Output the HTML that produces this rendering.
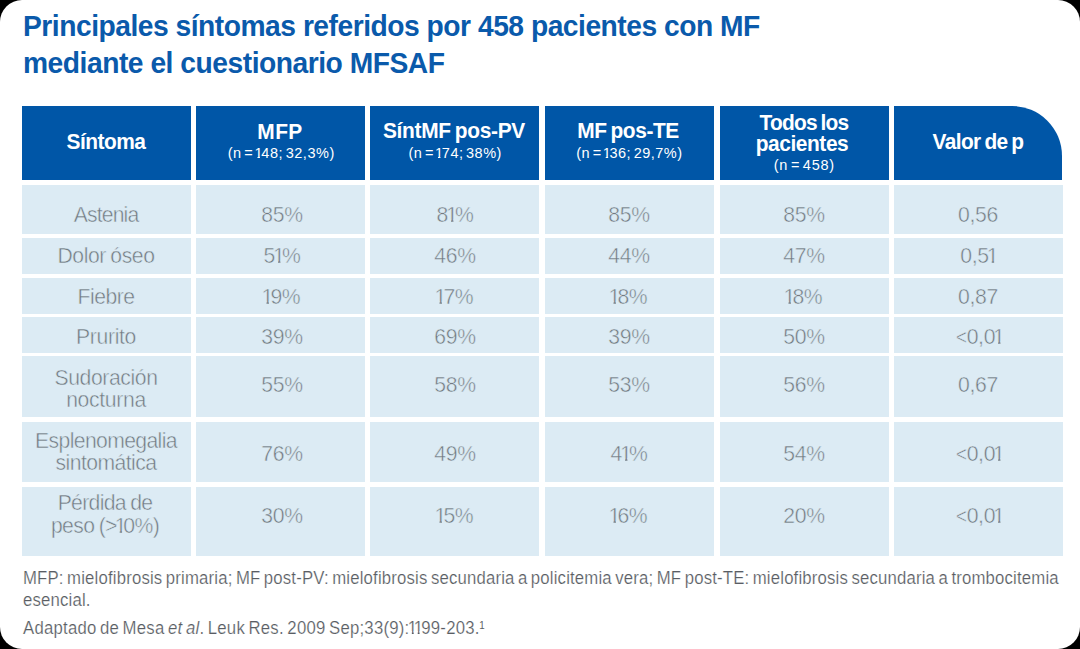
<!DOCTYPE html>
<html><head><meta charset="utf-8"><title>MFSAF</title><style>
html,body{margin:0;padding:0;background:#000;width:1080px;height:649px;overflow:hidden}
#pg{position:absolute;left:0;top:0;width:1080px;height:649px;background:#fff;border-radius:22px;overflow:hidden;font-family:"Liberation Sans", sans-serif}
#pg div{position:absolute;white-space:nowrap}
.hc{background:#0056a7}
.bc{background:#dcebf4}
.hb{font-weight:bold;font-size:22px;line-height:22px;color:#fff;word-spacing:-1.5px}
.hs{font-size:14.5px;line-height:14.5px;color:#fff;word-spacing:-2px}
.bt{font-size:22.5px;line-height:22.5px;color:#737980;word-spacing:-1px;-webkit-text-stroke:0.5px #dcebf4}
.ti{font-weight:bold;font-size:30px;line-height:30px;color:#0a5aab}
.fn{font-size:18px;line-height:18px;color:#595d63;word-spacing:-1.5px;-webkit-text-stroke:0.2px #fff}
.sup{position:relative;font-size:10.5px;top:-5px;margin-left:-0.5px;-webkit-text-stroke:0}
.o2{clip-path:polygon(0 0,100% 0,100% 0.72em,0.38em 0.72em,0.38em 120%,0.21em 120%,0.21em 0.72em,0 0.72em) !important}
.lt{font-size:0.88em}
.o{display:inline-block;line-height:1em;margin:0 -0.12em 0 -0.1em;clip-path:polygon(0 0,100% 0,100% 0.68em,0.35em 0.68em,0.35em 120%,0.24em 120%,0.24em 0.68em,0 0.68em)}
</style></head><body><div id="pg">
<div class="hc" style="left:22px;top:105.6px;width:168.5px;height:74.0px"></div>
<div class="hc" style="left:196px;top:105.6px;width:169px;height:74.0px"></div>
<div class="hc" style="left:370px;top:105.6px;width:169px;height:74.0px"></div>
<div class="hc" style="left:545px;top:105.6px;width:169px;height:74.0px"></div>
<div class="hc" style="left:720px;top:105.6px;width:169px;height:74.0px"></div>
<div class="hc" style="left:894px;top:105.6px;width:168px;height:74.0px;border-top-right-radius:50px"></div>
<div class="bc" style="left:22px;top:185px;width:168.5px;height:49px"></div>
<div class="bc" style="left:196px;top:185px;width:169px;height:49px"></div>
<div class="bc" style="left:370px;top:185px;width:169px;height:49px"></div>
<div class="bc" style="left:545px;top:185px;width:169px;height:49px"></div>
<div class="bc" style="left:720px;top:185px;width:169px;height:49px"></div>
<div class="bc" style="left:894px;top:185px;width:169px;height:49px"></div>
<div class="bc" style="left:22px;top:238px;width:168.5px;height:36px"></div>
<div class="bc" style="left:196px;top:238px;width:169px;height:36px"></div>
<div class="bc" style="left:370px;top:238px;width:169px;height:36px"></div>
<div class="bc" style="left:545px;top:238px;width:169px;height:36px"></div>
<div class="bc" style="left:720px;top:238px;width:169px;height:36px"></div>
<div class="bc" style="left:894px;top:238px;width:169px;height:36px"></div>
<div class="bc" style="left:22px;top:277.5px;width:168.5px;height:36.5px"></div>
<div class="bc" style="left:196px;top:277.5px;width:169px;height:36.5px"></div>
<div class="bc" style="left:370px;top:277.5px;width:169px;height:36.5px"></div>
<div class="bc" style="left:545px;top:277.5px;width:169px;height:36.5px"></div>
<div class="bc" style="left:720px;top:277.5px;width:169px;height:36.5px"></div>
<div class="bc" style="left:894px;top:277.5px;width:169px;height:36.5px"></div>
<div class="bc" style="left:22px;top:317px;width:168.5px;height:36px"></div>
<div class="bc" style="left:196px;top:317px;width:169px;height:36px"></div>
<div class="bc" style="left:370px;top:317px;width:169px;height:36px"></div>
<div class="bc" style="left:545px;top:317px;width:169px;height:36px"></div>
<div class="bc" style="left:720px;top:317px;width:169px;height:36px"></div>
<div class="bc" style="left:894px;top:317px;width:169px;height:36px"></div>
<div class="bc" style="left:22px;top:356px;width:168.5px;height:61px"></div>
<div class="bc" style="left:196px;top:356px;width:169px;height:61px"></div>
<div class="bc" style="left:370px;top:356px;width:169px;height:61px"></div>
<div class="bc" style="left:545px;top:356px;width:169px;height:61px"></div>
<div class="bc" style="left:720px;top:356px;width:169px;height:61px"></div>
<div class="bc" style="left:894px;top:356px;width:169px;height:61px"></div>
<div class="bc" style="left:22px;top:421.5px;width:168.5px;height:60.5px"></div>
<div class="bc" style="left:196px;top:421.5px;width:169px;height:60.5px"></div>
<div class="bc" style="left:370px;top:421.5px;width:169px;height:60.5px"></div>
<div class="bc" style="left:545px;top:421.5px;width:169px;height:60.5px"></div>
<div class="bc" style="left:720px;top:421.5px;width:169px;height:60.5px"></div>
<div class="bc" style="left:894px;top:421.5px;width:169px;height:60.5px"></div>
<div class="bc" style="left:22px;top:486.5px;width:168.5px;height:69.5px"></div>
<div class="bc" style="left:196px;top:486.5px;width:169px;height:69.5px"></div>
<div class="bc" style="left:370px;top:486.5px;width:169px;height:69.5px"></div>
<div class="bc" style="left:545px;top:486.5px;width:169px;height:69.5px"></div>
<div class="bc" style="left:720px;top:486.5px;width:169px;height:69.5px"></div>
<div class="bc" style="left:894px;top:486.5px;width:169px;height:69.5px"></div>
<div class="hb" id="h_sint" style="left:-93.80px;width:400px;top:131.10px;text-align:center;transform:scaleX(0.9500);letter-spacing:-0.53px">Síntoma</div>
<div class="hb" id="h_mfp" style="left:80.30px;width:400px;top:120.70px;text-align:center;transform:scaleX(0.9500);letter-spacing:0.416px">MFP</div>
<div class="hs" id="h_s148" style="left:81.30px;width:400px;top:145.95px;text-align:center;transform:scaleX(1.0000);letter-spacing:0.54px">(n = <span class="o o2">1</span>48; 32,3%)</div>
<div class="hb" id="h_pv" style="left:254.40px;width:400px;top:120.20px;text-align:center;transform:scaleX(0.9500);letter-spacing:-0.324px">SíntMF pos-PV</div>
<div class="hs" id="h_s174" style="left:255.20px;width:400px;top:146.05px;text-align:center;transform:scaleX(1.0000);letter-spacing:0.5px">(n = <span class="o o2">1</span>74; 38%)</div>
<div class="hb" id="h_te" style="left:428.20px;width:400px;top:120.20px;text-align:center;transform:scaleX(0.9500);letter-spacing:-0.428px">MF pos-TE</div>
<div class="hs" id="h_s136" style="left:429.40px;width:400px;top:146.05px;text-align:center;transform:scaleX(1.0000);letter-spacing:0.49px">(n = <span class="o o2">1</span>36; 29,7%)</div>
<div class="hb" id="h_todos" style="left:604.30px;width:400px;top:111.70px;text-align:center;transform:scaleX(0.9500);letter-spacing:-0.788px">Todos los</div>
<div class="hb" id="h_pac" style="left:602.00px;width:400px;top:132.70px;text-align:center;transform:scaleX(0.9500);letter-spacing:-0.448px">pacientes</div>
<div class="hs" id="h_s458" style="left:604.30px;width:400px;top:158.35px;text-align:center;transform:scaleX(1.0000);letter-spacing:0.725px">(n = 458)</div>
<div class="hb" id="h_valor" style="left:777.70px;width:400px;top:131.00px;text-align:center;transform:scaleX(0.9500);letter-spacing:-0.631px">Valor de p</div>
<div class="bt" id="n0" style="left:-94.50px;width:400px;top:203.95px;text-align:center;transform:scaleX(0.9400);letter-spacing:-0.887px">Astenia</div>
<div class="bt" id="n1" style="left:-94.20px;width:400px;top:245.45px;text-align:center;transform:scaleX(0.9400);letter-spacing:-0.467px">Dolor óseo</div>
<div class="bt" id="n2" style="left:-94.30px;width:400px;top:285.55px;text-align:center;transform:scaleX(0.9400);letter-spacing:-0.567px">Fiebre</div>
<div class="bt" id="n3" style="left:-93.70px;width:400px;top:326.15px;text-align:center;transform:scaleX(0.9400);letter-spacing:-0.341px">Prurito</div>
<div class="bt" id="n4" style="left:-94.30px;width:400px;top:367.35px;text-align:center;transform:scaleX(0.9400);letter-spacing:-0.414px">Sudoración</div>
<div class="bt" id="n5" style="left:-94.50px;width:400px;top:388.75px;text-align:center;transform:scaleX(0.9400);letter-spacing:-0.35px">nocturna</div>
<div class="bt" id="n6" style="left:-93.90px;width:400px;top:429.95px;text-align:center;transform:scaleX(0.9400);letter-spacing:-0.664px">Esplenomegalia</div>
<div class="bt" id="n7" style="left:-94.30px;width:400px;top:451.55px;text-align:center;transform:scaleX(0.9400);letter-spacing:-0.585px">sintomática</div>
<div class="bt" id="n8" style="left:-95.40px;width:400px;top:492.35px;text-align:center;transform:scaleX(0.9400);letter-spacing:-0.71px">Pérdida de</div>
<div class="bt" id="n9" style="left:-94.80px;width:400px;top:515.05px;text-align:center;transform:scaleX(0.9400);letter-spacing:-0.657px">peso (&gt;<span class="o">1</span>0%)</div>
<div class="bt" id="v0_0" style="left:82.30px;width:400px;top:203.95px;text-align:center;transform:scaleX(0.9400);letter-spacing:-0.334px">85%</div>
<div class="bt" id="v0_1" style="left:254.80px;width:400px;top:203.95px;text-align:center;transform:scaleX(0.9400);letter-spacing:-0.334px">8<span class="o">1</span>%</div>
<div class="bt" id="v0_2" style="left:429.10px;width:400px;top:203.95px;text-align:center;transform:scaleX(0.9400);letter-spacing:-0.334px">85%</div>
<div class="bt" id="v0_3" style="left:603.50px;width:400px;top:203.95px;text-align:center;transform:scaleX(0.9400);letter-spacing:-0.334px">85%</div>
<div class="bt" id="v0_4" style="left:777.90px;width:400px;top:203.95px;text-align:center;transform:scaleX(0.9400);letter-spacing:-0.334px">0,56</div>
<div class="bt" id="v1_0" style="left:82.30px;width:400px;top:245.45px;text-align:center;transform:scaleX(0.9400);letter-spacing:-0.334px">5<span class="o">1</span>%</div>
<div class="bt" id="v1_1" style="left:254.80px;width:400px;top:245.45px;text-align:center;transform:scaleX(0.9400);letter-spacing:-0.334px">46%</div>
<div class="bt" id="v1_2" style="left:429.10px;width:400px;top:245.45px;text-align:center;transform:scaleX(0.9400);letter-spacing:-0.334px">44%</div>
<div class="bt" id="v1_3" style="left:603.50px;width:400px;top:245.45px;text-align:center;transform:scaleX(0.9400);letter-spacing:-0.334px">47%</div>
<div class="bt" id="v1_4" style="left:777.90px;width:400px;top:245.45px;text-align:center;transform:scaleX(0.9400);letter-spacing:-0.334px">0,5<span class="o">1</span></div>
<div class="bt" id="v2_0" style="left:82.30px;width:400px;top:285.55px;text-align:center;transform:scaleX(0.9400);letter-spacing:-0.334px"><span class="o">1</span>9%</div>
<div class="bt" id="v2_1" style="left:254.80px;width:400px;top:285.55px;text-align:center;transform:scaleX(0.9400);letter-spacing:-0.334px"><span class="o">1</span>7%</div>
<div class="bt" id="v2_2" style="left:429.10px;width:400px;top:285.55px;text-align:center;transform:scaleX(0.9400);letter-spacing:-0.334px"><span class="o">1</span>8%</div>
<div class="bt" id="v2_3" style="left:603.50px;width:400px;top:285.55px;text-align:center;transform:scaleX(0.9400);letter-spacing:-0.334px"><span class="o">1</span>8%</div>
<div class="bt" id="v2_4" style="left:777.90px;width:400px;top:285.55px;text-align:center;transform:scaleX(0.9400);letter-spacing:-0.334px">0,87</div>
<div class="bt" id="v3_0" style="left:82.30px;width:400px;top:326.15px;text-align:center;transform:scaleX(0.9400);letter-spacing:-0.334px">39%</div>
<div class="bt" id="v3_1" style="left:254.80px;width:400px;top:326.15px;text-align:center;transform:scaleX(0.9400);letter-spacing:-0.334px">69%</div>
<div class="bt" id="v3_2" style="left:429.10px;width:400px;top:326.15px;text-align:center;transform:scaleX(0.9400);letter-spacing:-0.334px">39%</div>
<div class="bt" id="v3_3" style="left:603.50px;width:400px;top:326.15px;text-align:center;transform:scaleX(0.9400);letter-spacing:-0.334px">50%</div>
<div class="bt" id="v3_4" style="left:779.10px;width:400px;top:326.15px;text-align:center;transform:scaleX(0.9400);letter-spacing:-0.334px"><span class="lt">&lt;</span>0,0<span class="o">1</span></div>
<div class="bt" id="v4_0" style="left:82.30px;width:400px;top:374.45px;text-align:center;transform:scaleX(0.9400);letter-spacing:-0.334px">55%</div>
<div class="bt" id="v4_1" style="left:254.80px;width:400px;top:374.45px;text-align:center;transform:scaleX(0.9400);letter-spacing:-0.334px">58%</div>
<div class="bt" id="v4_2" style="left:429.10px;width:400px;top:374.45px;text-align:center;transform:scaleX(0.9400);letter-spacing:-0.334px">53%</div>
<div class="bt" id="v4_3" style="left:603.50px;width:400px;top:374.45px;text-align:center;transform:scaleX(0.9400);letter-spacing:-0.334px">56%</div>
<div class="bt" id="v4_4" style="left:777.90px;width:400px;top:374.45px;text-align:center;transform:scaleX(0.9400);letter-spacing:-0.334px">0,67</div>
<div class="bt" id="v5_0" style="left:82.30px;width:400px;top:442.75px;text-align:center;transform:scaleX(0.9400);letter-spacing:-0.334px">76%</div>
<div class="bt" id="v5_1" style="left:254.80px;width:400px;top:442.75px;text-align:center;transform:scaleX(0.9400);letter-spacing:-0.334px">49%</div>
<div class="bt" id="v5_2" style="left:429.10px;width:400px;top:442.75px;text-align:center;transform:scaleX(0.9400);letter-spacing:-0.334px">4<span class="o">1</span>%</div>
<div class="bt" id="v5_3" style="left:603.50px;width:400px;top:442.75px;text-align:center;transform:scaleX(0.9400);letter-spacing:-0.334px">54%</div>
<div class="bt" id="v5_4" style="left:779.10px;width:400px;top:442.75px;text-align:center;transform:scaleX(0.9400);letter-spacing:-0.334px"><span class="lt">&lt;</span>0,0<span class="o">1</span></div>
<div class="bt" id="v6_0" style="left:82.30px;width:400px;top:505.45px;text-align:center;transform:scaleX(0.9400);letter-spacing:-0.334px">30%</div>
<div class="bt" id="v6_1" style="left:254.80px;width:400px;top:505.45px;text-align:center;transform:scaleX(0.9400);letter-spacing:-0.334px"><span class="o">1</span>5%</div>
<div class="bt" id="v6_2" style="left:429.10px;width:400px;top:505.45px;text-align:center;transform:scaleX(0.9400);letter-spacing:-0.334px"><span class="o">1</span>6%</div>
<div class="bt" id="v6_3" style="left:603.50px;width:400px;top:505.45px;text-align:center;transform:scaleX(0.9400);letter-spacing:-0.334px">20%</div>
<div class="bt" id="v6_4" style="left:779.10px;width:400px;top:505.45px;text-align:center;transform:scaleX(0.9400);letter-spacing:-0.334px"><span class="lt">&lt;</span>0,0<span class="o">1</span></div>
<div class="ti" id="t1" style="left:23.00px;top:11.20px;transform-origin:0 0;transform:scaleX(0.9400);letter-spacing:-0.51px">Principales síntomas referidos por 458 pacientes con MF</div>
<div class="ti" id="t2" style="left:23.00px;top:47.70px;transform-origin:0 0;transform:scaleX(0.9400);letter-spacing:-0.501px">mediante el cuestionario MFSAF</div>
<div class="fn" id="f1" style="left:22.60px;top:569.40px;transform-origin:0 0;transform:scaleX(0.9300);letter-spacing:0.185px">MFP: mielofibrosis primaria; MF post-PV: mielofibrosis secundaria a policitemia vera; MF post-TE: mielofibrosis secundaria a trombocitemia</div>
<div class="fn" id="f2" style="left:22.60px;top:590.70px;transform-origin:0 0;transform:scaleX(0.9300);letter-spacing:0.185px">esencial.</div>
<div class="fn" id="f3" style="left:23.00px;top:618.80px;transform-origin:0 0;transform:scaleX(0.9300);letter-spacing:0.251px">Adaptado de Mesa <i>et al</i>. Leuk Res. 2009 Sep;33(9):<span class="o">1</span><span class="o">1</span>99-203.<span class="sup">1</span></div>
</div></body></html>
